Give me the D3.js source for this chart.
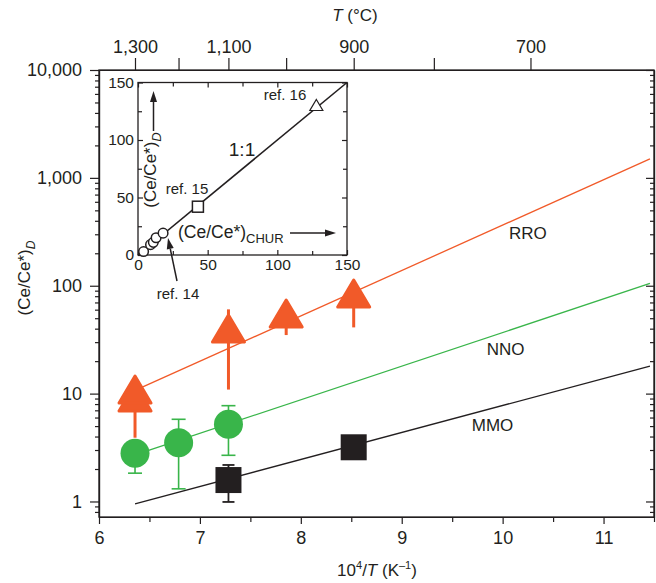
<!DOCTYPE html>
<html>
<head>
<meta charset="utf-8">
<script src="https://cdn.jsdelivr.net/npm/d3@7"></script>
<style>
  body { margin: 0; background: #fff; }
  text { font-family: "Liberation Sans", Arial, sans-serif; fill: #231f20; }
  .axis path, .axis line { stroke: #231f20; stroke-width: 1.2; }
</style>
</head>
<body>
<svg id="chart" width="656" height="583"></svg>
<script>
// main axes
const xTicks = [6, 7, 8, 9, 10, 11];
const xMinor = [6.5, 7.5, 8.5, 9.5, 10.5, 11.5];
const yTicks = [1, 10, 100, 1000, 10000];
const tempTicks = [1300, 1200, 1100, 1000, 900, 800, 700];
const tempLabels = [1300, 1100, 900, 700];

// buffer lines
const lineNames = ["RRO", "NNO", "MMO"];
const lineStart = [[6.357, 10.7], [6.357, 2.7], [6.357, 0.95]];
const lineEnd = [[11.46, 1500], [11.46, 105], [11.46, 18]];
const labelPos = [[10.25, 270], [10.03, 22.8], [9.9, 4.5]];

// RRO triangles
const rroX = [6.357, 6.357, 7.283, 7.855, 8.524];
const rroY = [9.1, 10.8, 39.7, 54.7, 83.8];
const rroLo = [3.9, null, 10.9, 34.9, 41.1];
const rroHi = [null, null, 60.4, null, null];

// NNO circles
const nnoX = [6.357, 6.789, 7.283];
const nnoY = [2.8, 3.5, 5.2];
const nnoLo = [1.83, 1.31, 2.68];
const nnoHi = [null, 5.78, 7.73];

// MMO squares
const mmoX = [7.283, 8.524];
const mmoY = [1.58, 3.18];
const mmoLo = [0.99, null];
const mmoHi = [2.18, null];

// inset
const insetTicks = [0, 50, 100, 150];
const insetMinor = [25, 75, 125];
const ref14X = [4, 9, 11, 13, 18];
const ref14Y = [3, 9, 11, 15, 19];
const ref15 = [43, 42];
const ref16 = [128, 130];

const ORANGE = "#f15a29", GREEN = "#39b54a", BLACK = "#231f20";
const lineColors = [ORANGE, GREEN, BLACK];

const svg = d3.select("#chart");
const box = {left: 99, right: 654, top: 70, bottom: 517};

let x = d3.scaleLinear().domain([6, 11.5]).range([box.left, box.right]);
let y = d3.scaleLog().domain([0.718, 10000]).range([box.bottom, box.top]);

// minor log ticks
let yMinor = [];
[0.1, 1, 10, 100, 1000].forEach(function(d) {
  for (let k = 2; k <= 9; k++) {
    let v = d * k;
    if (v >= 0.72 && v < 10000) yMinor.push(v);
  }
});

// bottom axis
svg.append("g").attr("class", "axis")
  .attr("transform", `translate(0,${box.bottom})`)
  .call(d3.axisBottom(x).tickValues(xTicks).tickSize(7).tickSizeOuter(0).tickPadding(7).tickFormat(d3.format("d")))
  .call(g => g.selectAll("text").style("font-size", "18px"));
svg.append("g").attr("class", "axis")
  .attr("transform", `translate(0,${box.bottom})`)
  .call(d3.axisBottom(x).tickValues(xMinor).tickSize(5).tickSizeOuter(0).tickFormat(""));

// left axis
svg.append("g").attr("class", "axis")
  .attr("transform", `translate(${box.left},0)`)
  .call(d3.axisLeft(y).tickValues(yTicks).tickSize(9).tickSizeOuter(0).tickPadding(8).tickFormat(d3.format(",")))
  .call(g => g.selectAll("text").style("font-size", "18px"));
svg.append("g").attr("class", "axis")
  .attr("transform", `translate(${box.left},0)`)
  .call(d3.axisLeft(y).tickValues(yMinor).tickSize(4).tickSizeOuter(0).tickFormat(""));

// right axis (ticks inward)
svg.append("g").attr("class", "axis")
  .attr("transform", `translate(${box.right},0)`)
  .call(d3.axisLeft(y).tickValues(yTicks).tickSize(8).tickSizeOuter(0).tickFormat(""));
svg.append("g").attr("class", "axis")
  .attr("transform", `translate(${box.right},0)`)
  .call(d3.axisLeft(y).tickValues(yMinor).tickSize(4).tickSizeOuter(0).tickFormat(""));

// top axis in degrees C
let tempToX = function(t) { return 1e4 / (t + 273.15); };
svg.append("g").attr("class", "axis")
  .attr("transform", `translate(0,${box.top})`)
  .call(d3.axisTop(x).tickValues(tempTicks.map(tempToX)).tickSize(12).tickSizeOuter(0).tickPadding(5)
    .tickFormat(function(d, i) {
      let t = tempTicks[i];
      return tempLabels.indexOf(t) >= 0 ? d3.format(",")(t) : "";
    }))
  .call(g => g.selectAll("text").style("font-size", "18px"));

// frame
svg.append("rect")
  .attr("x", box.left).attr("y", box.top)
  .attr("width", box.right - box.left).attr("height", box.bottom - box.top)
  .attr("fill", "none").attr("stroke", BLACK).attr("stroke-width", 1.3);

// titles
let tTitle = svg.append("text").attr("x", 355).attr("y", 21)
  .attr("text-anchor", "middle").style("font-size", "17px");
tTitle.append("tspan").style("font-style", "italic").text("T");
tTitle.append("tspan").text(" (°C)");

let xTitle = svg.append("text").attr("x", 377).attr("y", 576)
  .attr("text-anchor", "middle").style("font-size", "17px");
xTitle.append("tspan").text("10");
xTitle.append("tspan").attr("dy", -7).style("font-size", "11px").text("4");
xTitle.append("tspan").attr("dy", 7).text("/");
xTitle.append("tspan").style("font-style", "italic").text("T");
xTitle.append("tspan").text(" (K");
xTitle.append("tspan").attr("dy", -7).style("font-size", "11px").text("–1");
xTitle.append("tspan").attr("dy", 7).text(")");

let yTitle = svg.append("text").attr("transform", "translate(30,278) rotate(-90)")
  .attr("text-anchor", "middle").style("font-size", "17px");
yTitle.append("tspan").text("(Ce/Ce*)");
yTitle.append("tspan").attr("dy", 5).style("font-size", "12px").style("font-style", "italic").text("D");

// buffer lines
lineNames.forEach(function(name, i) {
  svg.append("line")
    .attr("x1", x(lineStart[i][0])).attr("y1", y(lineStart[i][1]))
    .attr("x2", x(lineEnd[i][0])).attr("y2", y(lineEnd[i][1]))
    .attr("stroke", lineColors[i]).attr("stroke-width", 1.3);
  svg.append("text")
    .attr("x", x(labelPos[i][0])).attr("y", y(labelPos[i][1]))
    .attr("text-anchor", "middle").style("font-size", "17px")
    .text(name);
});

// error bars
function errorBars(xs, ys, lo, hi, color, width, cap) {
  xs.forEach(function(d, i) {
    let top = hi[i] == null ? ys[i] : hi[i];
    let bot = lo[i] == null ? ys[i] : lo[i];
    if (top === bot) return;
    svg.append("line")
      .attr("x1", x(d)).attr("x2", x(d))
      .attr("y1", y(top)).attr("y2", y(bot))
      .attr("stroke", color).attr("stroke-width", width);
    if (cap > 0) {
      [hi[i], lo[i]].forEach(function(v) {
        if (v == null) return;
        svg.append("line")
          .attr("x1", x(d) - cap / 2).attr("x2", x(d) + cap / 2)
          .attr("y1", y(v)).attr("y2", y(v))
          .attr("stroke", color).attr("stroke-width", width);
      });
    }
  });
}
errorBars(rroX, rroY, rroLo, rroHi, ORANGE, 3, 0);
errorBars(nnoX, nnoY, nnoLo, nnoHi, GREEN, 1.6, 14);
errorBars(mmoX, mmoY, mmoLo, mmoHi, BLACK, 1.8, 12);

// markers
rroX.forEach(function(d, i) {
  let cx = x(d), cy = y(rroY[i]);
  svg.append("path")
    .attr("d", `M${cx},${cy - 14} L${cx + 16},${cy + 13} L${cx - 16},${cy + 13} Z`)
    .attr("fill", ORANGE).attr("stroke", ORANGE)
    .attr("stroke-width", 3).attr("stroke-linejoin", "round");
});
nnoX.forEach(function(d, i) {
  svg.append("circle")
    .attr("cx", x(d)).attr("cy", y(nnoY[i])).attr("r", 14.5)
    .attr("fill", GREEN);
});
mmoX.forEach(function(d, i) {
  svg.append("rect")
    .attr("x", x(d) - 13).attr("y", y(mmoY[i]) - 13)
    .attr("width", 26).attr("height", 26)
    .attr("fill", BLACK);
});

// ---------- inset ----------
let xi = d3.scaleLinear().domain([0, 150]).range([138, 347]);
let yi = d3.scaleLinear().domain([0, 150]).range([255, 82.5]);
let inset = svg.append("g");

inset.append("rect")
  .attr("x", xi(0)).attr("y", yi(150))
  .attr("width", xi(150) - xi(0)).attr("height", yi(0) - yi(150))
  .attr("fill", "#fff").attr("stroke", BLACK).attr("stroke-width", 1.3);

function insetAxis(axis, tr, labels) {
  inset.append("g").attr("class", "axis").attr("transform", tr)
    .call(axis.tickValues(insetTicks).tickSize(-5).tickSizeOuter(0).tickPadding(4)
      .tickFormat(labels ? d3.format("d") : ""))
    .call(g => g.selectAll("text").style("font-size", "15.5px"))
    .call(g => g.select(".domain").remove());
  inset.append("g").attr("class", "axis").attr("transform", tr)
    .call(axis.tickValues(insetMinor).tickSize(-4).tickSizeOuter(0).tickFormat(""))
    .call(g => g.select(".domain").remove());
}
insetAxis(d3.axisBottom(xi), `translate(0,${yi(0)})`, true);
insetAxis(d3.axisTop(xi), `translate(0,${yi(150)})`, false);
insetAxis(d3.axisLeft(yi), `translate(${xi(0)},0)`, true);
insetAxis(d3.axisRight(yi), `translate(${xi(150)},0)`, false);

// 1:1 line
inset.append("line")
  .attr("x1", xi(0)).attr("y1", yi(0)).attr("x2", xi(150)).attr("y2", yi(150))
  .attr("stroke", BLACK).attr("stroke-width", 1.6);

ref14X.forEach(function(d, i) {
  inset.append("circle")
    .attr("cx", xi(d)).attr("cy", yi(ref14Y[i])).attr("r", 4.8)
    .attr("fill", "#fff").attr("stroke", BLACK).attr("stroke-width", 1.5);
});
inset.append("rect")
  .attr("x", xi(ref15[0]) - 5.5).attr("y", yi(ref15[1]) - 5.5)
  .attr("width", 11).attr("height", 11)
  .attr("fill", "#fff").attr("stroke", BLACK).attr("stroke-width", 1.5);
let tx = xi(ref16[0]), ty = yi(ref16[1]);
inset.append("path")
  .attr("d", `M${tx},${ty - 6} L${tx + 6.5},${ty + 5} L${tx - 6.5},${ty + 5} Z`)
  .attr("fill", "#fff").attr("stroke", BLACK).attr("stroke-width", 1.2);

// arrows
function arrow(x1, y1, x2, y2) {
  let a = Math.atan2(y2 - y1, x2 - x1), L = 11, W = 3.5;
  let bx = x2 - L * Math.cos(a), by = y2 - L * Math.sin(a);
  inset.append("line").attr("x1", x1).attr("y1", y1).attr("x2", bx).attr("y2", by)
    .attr("stroke", BLACK).attr("stroke-width", 1.5);
  inset.append("path")
    .attr("d", `M${x2},${y2} L${bx + W * Math.sin(a)},${by - W * Math.cos(a)} L${bx - W * Math.sin(a)},${by + W * Math.cos(a)} Z`)
    .attr("fill", BLACK);
}
arrow(153.5, 131, 153.5, 91);
arrow(290, 233, 336, 233);
arrow(177, 281, 168, 238);

// inset text
let iy = inset.append("text").attr("transform", "translate(156,170) rotate(-90)")
  .attr("text-anchor", "middle").style("font-size", "17px");
iy.append("tspan").text("(Ce/Ce*)");
iy.append("tspan").attr("dy", 5).style("font-size", "13px").style("font-style", "italic").text("D");

let ix = inset.append("text").attr("x", 178).attr("y", 238).style("font-size", "17.5px");
ix.append("tspan").text("(Ce/Ce*)");
ix.append("tspan").attr("dy", 5).style("font-size", "13px").text("CHUR");

inset.append("text").attr("x", 242).attr("y", 156).attr("text-anchor", "middle")
  .style("font-size", "19px").text("1:1");
inset.append("text").attr("x", 285).attr("y", 100).attr("text-anchor", "middle")
  .style("font-size", "15px").text("ref. 16");
inset.append("text").attr("x", 187).attr("y", 194).attr("text-anchor", "middle")
  .style("font-size", "15px").text("ref. 15");
inset.append("text").attr("x", 178).attr("y", 299).attr("text-anchor", "middle")
  .style("font-size", "15px").text("ref. 14");
</script>
</body>
</html>
